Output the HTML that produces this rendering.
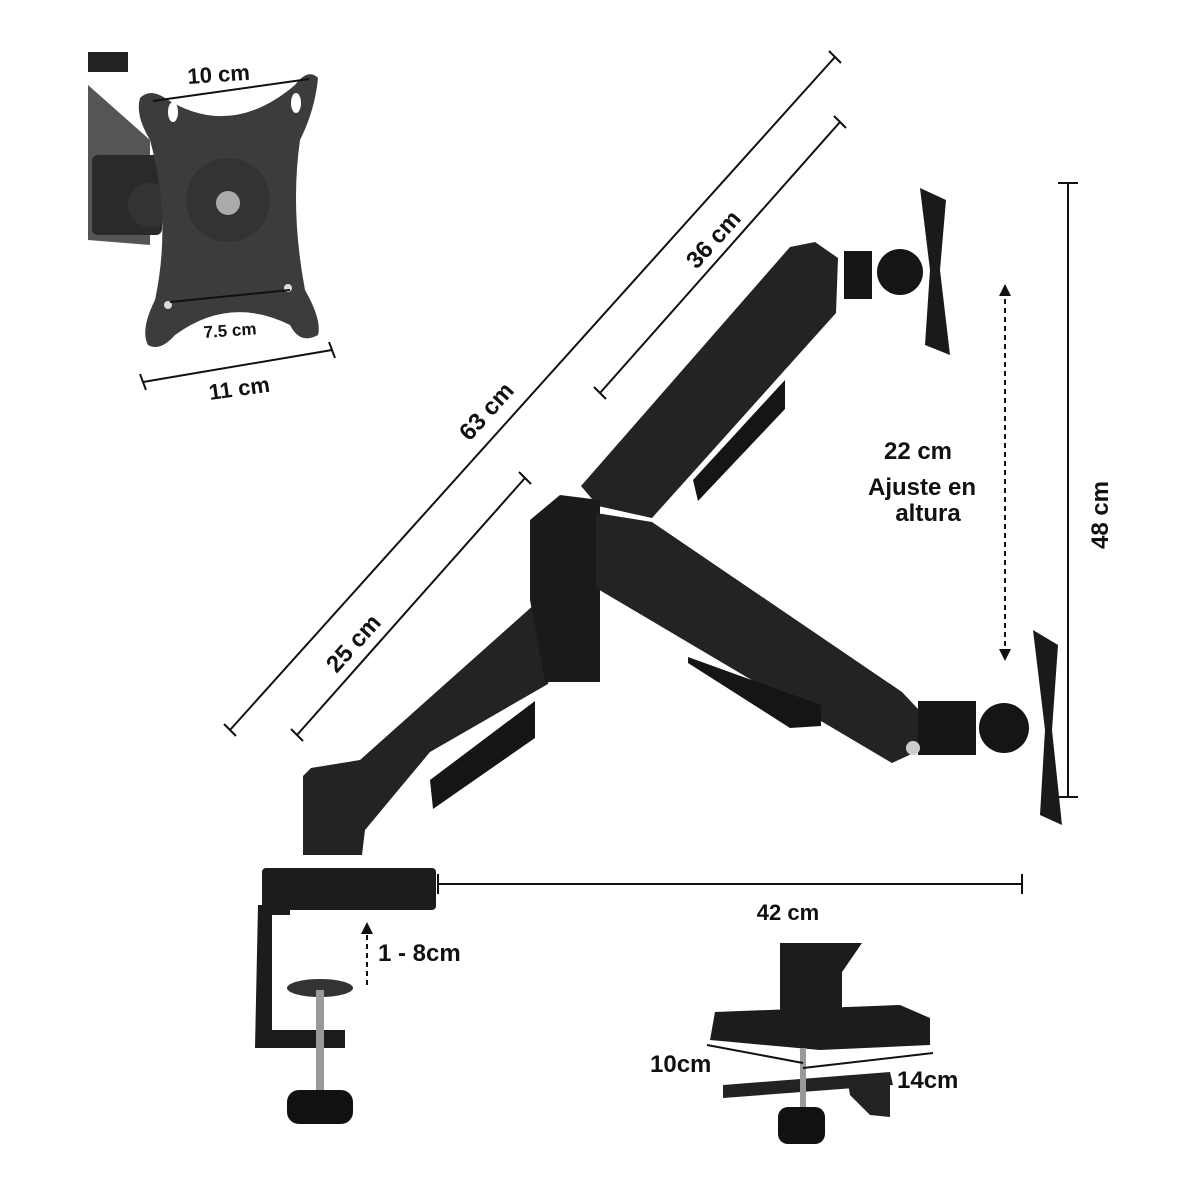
<!DOCTYPE html>
<html><head><meta charset="utf-8"><style>
html,body{margin:0;padding:0;background:#fff;}
svg{display:block}
text{font-family:"Liberation Sans",sans-serif;fill:#111;font-weight:bold;}
</style></head><body>
<svg width="1200" height="1200" viewBox="0 0 1200 1200" xmlns="http://www.w3.org/2000/svg">
<defs>
<marker id="ah" viewBox="0 0 10 10" refX="5" refY="5" markerWidth="6" markerHeight="6" orient="auto-start-reverse"><path d="M0,0 L10,5 L0,10 z" fill="#111"/></marker>
</defs>
<!-- top-left inset -->
<rect x="88" y="52" width="40" height="20" fill="#222"/>
<polygon points="88,85 150,140 150,245 88,240" fill="#555"/>
<rect x="92" y="155" width="70" height="80" rx="6" fill="#2a2a2a"/>
<circle cx="150" cy="205" r="22" fill="#333"/>
<path d="M140,98 Q150,88 165,98 Q230,140 295,85 Q308,68 318,78 Q315,110 300,140 Q290,210 305,290 Q322,320 318,335 Q300,345 290,325 Q230,295 175,335 Q160,352 148,345 Q140,330 155,300 Q172,220 150,140 Q135,115 140,98 Z" fill="#3c3c3c"/>
<circle cx="228" cy="200" r="42" fill="#333"/>
<circle cx="228" cy="203" r="12" fill="#aaa"/>
<ellipse cx="173" cy="112" rx="5" ry="10" fill="#fff"/>
<ellipse cx="296" cy="103" rx="5" ry="10" fill="#fff"/>
<circle cx="168" cy="305" r="4" fill="#ddd"/>
<circle cx="288" cy="288" r="4" fill="#ddd"/>
<line x1="153" y1="101" x2="309" y2="79" stroke="#111" stroke-width="2"/>
<text x="188" y="84" font-size="22" transform="rotate(-4 188 84)">10 cm</text>
<line x1="170" y1="302" x2="290" y2="290" stroke="#111" stroke-width="2"/>
<text x="204" y="338" font-size="17" transform="rotate(-4 204 338)">7.5 cm</text>
<line x1="143" y1="382" x2="332" y2="350" stroke="#111" stroke-width="2"/>
<line x1="140" y1="374" x2="146" y2="390" stroke="#111" stroke-width="2"/>
<line x1="329" y1="342" x2="335" y2="358" stroke="#111" stroke-width="2"/>
<text x="210" y="400" font-size="22" transform="rotate(-8 210 400)">11 cm</text>

<!-- dimension lines -->
<g stroke="#111" stroke-width="2">
<line x1="230" y1="730" x2="835" y2="57"/>
<line x1="224" y1="724" x2="236" y2="736"/><line x1="829" y1="51" x2="841" y2="63"/>
<line x1="600" y1="393" x2="840" y2="122"/>
<line x1="594" y1="387" x2="606" y2="399"/><line x1="834" y1="116" x2="846" y2="128"/>
<line x1="297" y1="735" x2="525" y2="478"/>
<line x1="291" y1="729" x2="303" y2="741"/><line x1="519" y1="472" x2="531" y2="484"/>
<line x1="1068" y1="183" x2="1068" y2="797"/>
<line x1="1058" y1="183" x2="1078" y2="183"/><line x1="1058" y1="797" x2="1078" y2="797"/>
<line x1="438" y1="884" x2="1022" y2="884"/>
<line x1="438" y1="874" x2="438" y2="894"/><line x1="1022" y1="874" x2="1022" y2="894"/>
</g>
<line x1="1005" y1="290" x2="1005" y2="655" stroke="#111" stroke-width="2" stroke-dasharray="5,4" marker-start="url(#ah)" marker-end="url(#ah)"/>
<line x1="367" y1="985" x2="367" y2="928" stroke="#111" stroke-width="2" stroke-dasharray="5,4" marker-end="url(#ah)"/>

<text x="485" y="420" font-size="24" transform="rotate(-48 485 410)" text-anchor="middle">63 cm</text>
<text x="712" y="248" font-size="24" transform="rotate(-48 712 238)" text-anchor="middle">36 cm</text>
<text x="352" y="652" font-size="24" transform="rotate(-48 352 642)" text-anchor="middle">25 cm</text>
<text x="1100" y="515" font-size="24" transform="rotate(-90 1100 515)" text-anchor="middle" dy="8">48 cm</text>
<text x="918" y="459" font-size="24" text-anchor="middle">22 cm</text>
<text x="922" y="495" font-size="24" text-anchor="middle">Ajuste en</text>
<text x="928" y="521" font-size="24" text-anchor="middle">altura</text>
<text x="788" y="920" font-size="22" text-anchor="middle">42 cm</text>
<text x="378" y="961" font-size="24">1 - 8cm</text>

<!-- arms -->
<g fill="#232323">
<polygon points="581,486 790,247 815,242 838,258 836,313 652,518 598,506"/>
<polygon points="693,480 785,380 785,409 698,501" fill="#151515"/>
<polygon points="303,776 311,768 360,760 545,595 555,620 548,684 430,752 365,830 362,855 303,855"/>
<polygon points="430,780 535,701 535,738 433,809" fill="#151515"/>
<polygon points="530,520 560,495 600,500 600,682 545,682 530,600" fill="#1a1a1a"/>
<polygon points="596,513 652,522 902,692 918,709 918,751 892,763 596,588"/>
<polygon points="688,657 821,705 821,726 790,728 688,663" fill="#151515"/>
<rect x="844" y="251" width="28" height="48" fill="#151515"/>
<circle cx="900" cy="272" r="23" fill="#151515"/>
<path d="M920,188 L946,200 L940,270 L950,355 L925,345 L930,270 Z" fill="#1a1a1a"/>
<rect x="918" y="701" width="58" height="54" fill="#151515"/>
<circle cx="1004" cy="728" r="25" fill="#151515"/>
<circle cx="913" cy="748" r="7" fill="#ccc"/>
<path d="M1033,630 L1058,645 L1052,730 L1062,825 L1040,815 L1045,730 Z" fill="#1a1a1a"/>
</g>
<!-- clamp -->
<rect x="262" y="868" width="174" height="42" rx="4" fill="#1c1c1c"/>
<path d="M258,905 L290,905 L290,915 L272,915 L272,1030 L345,1030 L345,1048 L255,1048 Z" fill="#1c1c1c"/>
<ellipse cx="320" cy="988" rx="33" ry="9" fill="#333"/>
<rect x="316" y="990" width="8" height="105" fill="#999"/>
<rect x="287" y="1090" width="66" height="34" rx="12" fill="#111"/>

<!-- bottom right inset -->
<rect x="780" y="943" width="62" height="68" fill="#1c1c1c"/>
<polygon points="790,943 862,943 840,975 800,975" fill="#1c1c1c"/>
<path d="M715,1012 L900,1005 L930,1018 L930,1045 L820,1050 L710,1040 Z" fill="#1c1c1c"/>
<polygon points="723,1085 890,1072 893,1085 723,1098" fill="#222"/>
<polygon points="847,1077 890,1075 890,1117 870,1115 850,1095" fill="#222"/>
<rect x="800" y="1048" width="6" height="65" fill="#999"/>
<rect x="778" y="1107" width="47" height="37" rx="10" fill="#111"/>
<line x1="707" y1="1045" x2="803" y2="1063" stroke="#111" stroke-width="2"/>
<line x1="803" y1="1068" x2="933" y2="1053" stroke="#111" stroke-width="2"/>
<text x="650" y="1072" font-size="24">10cm</text>
<text x="897" y="1088" font-size="24">14cm</text>
</svg>
</body></html>
